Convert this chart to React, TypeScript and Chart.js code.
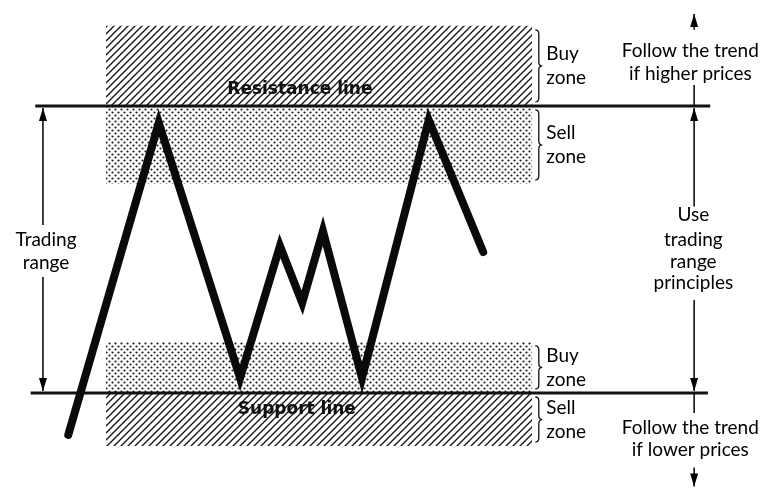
import React, { useEffect, useRef } from "react";
import { Chart, registerables } from "chart.js";

Chart.register(...registerables);

// ---- data (time units 0..100 across, price: support = 0, resistance = 100) ----
const SUPPORT = 0;
const RESISTANCE = 100;
const priceTimes = [8.9, 20.7, 31.3, 36.5, 39.4, 42.1, 47.2, 55.9, 63.0];
const priceValues = [-14.6, 94.1, 5.2, 51.2, 31.4, 56.4, 5.2, 95.1, 49.1];

const zoneStart = 13.8;
const zoneEnd = 69.4;
const zoneLabels = ["Buy zone", "Sell zone", "Buy zone", "Sell zone"];
const zoneFrom = [100, 100, 0, 0];
const zoneTo = [127.9, 72.8, 17.8, -18.5];
const zoneKinds = ["hatch", "dots", "dots", "hatch"];

const resistanceSpan = [4.6, 92.6];
const supportSpan = [4.0, 92.3];

const X_MIN = 0, X_MAX = 100;
const Y_MIN = -33.1, Y_MAX = 136.9;

const LABEL_FONT = "19px Lato";
const LINE_FONT = "bold 17px 'DejaVu Sans'";

function makeHatch(): CanvasPattern | string {
  const c = document.createElement("canvas");
  c.width = 7; c.height = 7;
  const g = c.getContext("2d");
  if (!g) return "#888";
  g.strokeStyle = "#111";
  g.lineWidth = 1.3;
  g.beginPath();
  g.moveTo(0, 7); g.lineTo(7, 0);
  g.moveTo(-1, 1); g.lineTo(1, -1);
  g.moveTo(6, 8); g.lineTo(8, 6);
  g.stroke();
  const p = g.createPattern(c, "repeat");
  return p || "#888";
}

function makeDots(): CanvasPattern | string {
  const c = document.createElement("canvas");
  c.width = 6; c.height = 6;
  const g = c.getContext("2d");
  if (!g) return "#bbb";
  g.fillStyle = "#1a1a1a";
  g.beginPath();
  g.arc(1.5, 1.5, 1.1, 0, Math.PI * 2);
  g.closePath();
  g.moveTo(5.6, 4.5);
  g.arc(4.5, 4.5, 1.1, 0, Math.PI * 2);
  g.fill();
  const p = g.createPattern(c, "repeat");
  return p || "#bbb";
}

const annotationPlugin = {
  id: "tradingNotes",
  afterDatasetsDraw(chart: any) {
    const ctx: CanvasRenderingContext2D = chart.ctx;
    const xs = chart.scales.x;
    const ys = chart.scales.y;
    const X = (v: number) => xs.getPixelForValue(v);
    const Y = (v: number) => ys.getPixelForValue(v);

    ctx.save();
    ctx.fillStyle = "#000";
    ctx.strokeStyle = "#111";

    const head = (x: number, y: number, dir: number) => {
      ctx.beginPath();
      ctx.moveTo(x, y);
      ctx.lineTo(x - 4, y + dir * 13);
      ctx.lineTo(x + 4, y + dir * 13);
      ctx.closePath();
      ctx.fill();
    };
    const shaft = (x: number, y1: number, y2: number) => {
      ctx.lineWidth = 1.6;
      ctx.beginPath();
      ctx.moveTo(x, y1);
      ctx.lineTo(x, y2);
      ctx.stroke();
    };

    // Left trading range arrow
    const lx = X(5.6);
    shaft(lx, Y(RESISTANCE) + 2, Y(58.5));
    head(lx, Y(RESISTANCE) + 2, 1);
    shaft(lx, Y(40.4), Y(SUPPORT) - 2);
    head(lx, Y(SUPPORT) - 2, -1);

    // Right column arrows
    const rx = X(90.5);
    shaft(rx, Y(132), Y(126.5));
    head(rx, Y(132), 1);
    shaft(rx, Y(107.3), Y(RESISTANCE));
    shaft(rx, Y(RESISTANCE) + 2, Y(65));
    head(rx, Y(RESISTANCE) + 2, 1);
    shaft(rx, Y(32.4), Y(SUPPORT) - 2);
    head(rx, Y(SUPPORT) - 2, -1);
    shaft(rx, Y(SUPPORT), Y(-7));
    shaft(rx, Y(-26), Y(-32.6));
    head(rx, Y(-32.6), -1);

    // Braces
    const brace = (x: number, top: number, bottom: number) => {
      const w = 7;
      const mid = (top + bottom) / 2;
      const r = 4;
      ctx.lineWidth = 1.3;
      ctx.beginPath();
      ctx.moveTo(x, top);
      ctx.quadraticCurveTo(x + w / 2, top, x + w / 2, top + r);
      ctx.lineTo(x + w / 2, mid - r);
      ctx.quadraticCurveTo(x + w / 2, mid, x + w, mid);
      ctx.quadraticCurveTo(x + w / 2, mid, x + w / 2, mid + r);
      ctx.lineTo(x + w / 2, bottom - r);
      ctx.quadraticCurveTo(x + w / 2, bottom, x, bottom);
      ctx.stroke();
    };

    ctx.font = LABEL_FONT;
    ctx.textBaseline = "middle";
    zoneLabels.forEach((lab, i) => {
      const a = Y(Math.max(zoneFrom[i], zoneTo[i]));
      const b = Y(Math.min(zoneFrom[i], zoneTo[i]));
      const bx = X(zoneEnd) + 3;
      brace(bx, a + 4, b - 4);
      const words = lab.split(" ");
      const cy = (a + b) / 2;
      ctx.textAlign = "left";
      ctx.fillText(words[0], bx + 11, cy - 12);
      ctx.fillText(words[1], bx + 11, cy + 12);
    });

    // Column texts
    ctx.textAlign = "center";
    const center = (lines: string[], x: number, ys2: number[]) => {
      lines.forEach((t, i) => ctx.fillText(t, x, Y(ys2[i])));
    };
    center(["Trading", "range"], X(6.0), [53.3, 45.3]);
    center(["Follow the trend", "if higher prices"], X(90.0), [119.2, 111.1]);
    center(["Use", "trading", "range", "principles"], X(90.4), [62, 53.3, 45.6, 38.3]);
    center(["Follow the trend", "if lower prices"], X(90.0), [-12.2, -19.9]);

    // Line names
    ctx.font = LINE_FONT;
    ctx.fillStyle = "#111";
    ctx.fillText("Resistance line", X(39.1), Y(105.6));
    ctx.fillText("Support line", X(38.7), Y(-5.9));

    ctx.restore();
  },
};

export default function App() {
  const ref = useRef<HTMLCanvasElement | null>(null);

  useEffect(() => {
    document.body.style.margin = "0";
    const canvas = ref.current;
    if (!canvas) return;
    const hatch = makeHatch();
    const dots = makeDots();

    const zoneSets = zoneLabels.map((lab, i) => ({
      label: lab,
      data: [
        { x: zoneStart, y: zoneTo[i] },
        { x: zoneEnd, y: zoneTo[i] },
      ],
      borderWidth: 0,
      borderColor: "rgba(0,0,0,0)",
      pointRadius: 0,
      backgroundColor: zoneKinds[i] === "hatch" ? hatch : dots,
      fill: { value: zoneFrom[i] },
      order: 3,
    }));

    const chart = new Chart(canvas, {
      type: "line",
      data: {
        datasets: [
          {
            label: "Price",
            data: priceTimes.map((t, i) => ({ x: t, y: priceValues[i] })),
            borderColor: "#0a0a0a",
            borderWidth: 8,
            borderJoinStyle: "miter",
            borderCapStyle: "round",
            pointRadius: 0,
            tension: 0,
            fill: false,
            order: 0,
          },
          {
            label: "Resistance line",
            data: resistanceSpan.map((t) => ({ x: t, y: RESISTANCE })),
            borderColor: "#111",
            borderWidth: 3,
            pointRadius: 0,
            fill: false,
            order: 1,
          },
          {
            label: "Support line",
            data: supportSpan.map((t) => ({ x: t, y: SUPPORT })),
            borderColor: "#111",
            borderWidth: 3,
            pointRadius: 0,
            fill: false,
            order: 1,
          },
          ...zoneSets,
        ] as any,
      },
      options: {
        responsive: false,
        animation: false,
        devicePixelRatio: 1,
        layout: { padding: 0 },
        scales: {
          x: { type: "linear", min: X_MIN, max: X_MAX, display: false },
          y: { type: "linear", min: Y_MIN, max: Y_MAX, display: false },
        },
        plugins: {
          legend: { display: false },
          tooltip: { enabled: false },
          title: { display: false },
        },
        elements: { line: { tension: 0 } },
        clip: false as any,
      } as any,
      plugins: [annotationPlugin],
    });
    return () => chart.destroy();
  }, []);

  return (
    <div style={{ width: 767, height: 488, background: "#fff" }}>
      <canvas ref={ref} width={767} height={488} style={{ display: "block" }} />
    </div>
  );
}
